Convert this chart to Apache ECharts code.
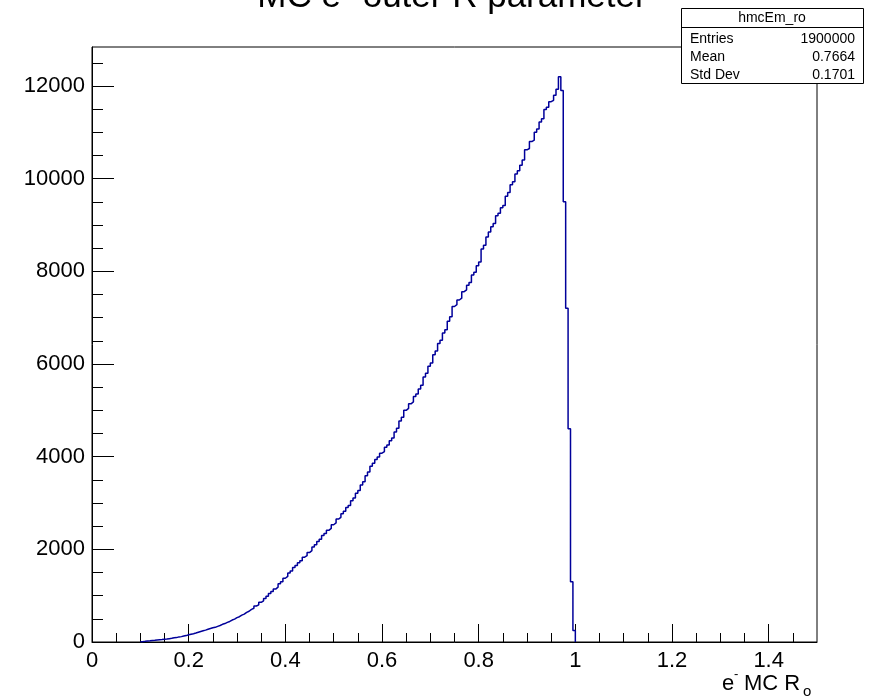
<!DOCTYPE html>
<html>
<head>
<meta charset="utf-8">
<script src="https://cdn.jsdelivr.net/npm/echarts@6/dist/echarts.min.js"></script>
<style>
html, body { margin: 0; padding: 0; background: #fff; }
#main { width: 870px; height: 700px; }
</style>
</head>
<body>
<div id="main"></div>
<script>
// histogram hmcEm_ro, bins of 0.005 starting at 0.1
var binStart = 0.1;
var binWidth = 0.005;
var counts = [
  8, 14, 22, 27, 34, 37, 45, 49, 53, 61,
  64, 72, 79, 90, 95, 110, 116, 128, 138, 155,
  168, 180, 194, 210, 226, 242, 256, 274, 290, 306,
  316, 338, 356, 382, 398, 424, 444, 474, 494, 526,
  545, 580, 602, 640, 664, 705, 728, 776, 802, 856,
  890, 940, 985, 1046, 1090, 1142, 1185, 1258, 1302, 1376,
  1415, 1488, 1532, 1606, 1650, 1708, 1752, 1830, 1862, 1930,
  1972, 2050, 2100, 2168, 2220, 2296, 2340, 2410, 2452, 2530,
  2570, 2652, 2690, 2770, 2820, 2900, 2948, 3050, 3110, 3212,
  3270, 3388, 3460, 3590, 3670, 3790, 3860, 3940, 3990, 4075,
  4110, 4200, 4250, 4345, 4400, 4530, 4610, 4770, 4850, 5000,
  5040, 5140, 5180, 5300, 5350, 5460, 5540, 5720, 5800, 5950,
  6020, 6200, 6280, 6440, 6510, 6670, 6740, 6920, 7020, 7240,
  7280, 7380, 7420, 7560, 7600, 7700, 7760, 7920, 7980, 8120,
  8200, 8480, 8560, 8740, 8850, 8960, 9030, 9200, 9250, 9370,
  9420, 9620, 9700, 9870, 9930, 10100, 10170, 10290, 10400, 10620,
  10650, 10800, 10830, 11000, 11070, 11220, 11290, 11490, 11540, 11660,
  11690, 11800, 11930, 12200, 11900, 9500, 7200, 4600, 1300, 250
];
var xTicks = [0, 0.2, 0.4, 0.6, 0.8, 1, 1.2, 1.4];
var xTickLabels = ['0', '0.2', '0.4', '0.6', '0.8', '1', '1.2', '1.4'];
var yTicks = [0, 2000, 4000, 6000, 8000, 10000, 12000];
var yTickLabels = ['0', '2000', '4000', '6000', '8000', '10000', '12000'];
var statsRows = [['Entries', '1900000'], ['Mean', '0.7664'], ['Std Dev', '0.1701']];

var points = [];
for (var i = 0; i < counts.length; i++) {
  points.push([+(binStart + i * binWidth).toFixed(4), counts[i]]);
}
points.push([+(binStart + counts.length * binWidth).toFixed(4), 0]);

var chart = echarts.init(document.getElementById('main'));
var font = 'Liberation Sans, Arial, Helvetica, sans-serif';

var statsGraphics = [
  { type: 'rect', shape: { x: 681.5, y: 8.5, width: 182, height: 75 },
    style: { fill: '#fff', stroke: '#000', lineWidth: 1 } },
  { type: 'line', shape: { x1: 681.5, y1: 27.5, x2: 863.5, y2: 27.5 },
    style: { stroke: '#000', lineWidth: 1 } },
  { type: 'text', x: 772, y: 18, style: { text: 'hmcEm_ro', font: '14px ' + font,
    fill: '#000', textAlign: 'center', textVerticalAlign: 'middle' } }
];
statsRows.forEach(function(r, k) {
  statsGraphics.push({ type: 'text', x: 690, y: 39 + k * 18.3,
    style: { text: r[0], font: '14px ' + font, fill: '#000', textAlign: 'left', textVerticalAlign: 'middle' } });
  statsGraphics.push({ type: 'text', x: 855, y: 39 + k * 18.3,
    style: { text: r[1], font: '14px ' + font, fill: '#000', textAlign: 'right', textVerticalAlign: 'middle' } });
});

var option = {
  animation: false,
  backgroundColor: '#fff',
  grid: {
    left: 92, right: 53, top: 47, bottom: 58,
    show: true, borderColor: '#000', borderWidth: 1, backgroundColor: 'transparent'
  },
  xAxis: {
    type: 'value', min: 0, max: 1.5, interval: 0.2,
    axisLine: { show: true, onZero: false, lineStyle: { color: '#000', width: 1 } },
    axisTick: { show: true, inside: true, length: 18, customValues: xTicks, lineStyle: { color: '#000' } },
    minorTick: { show: true, splitNumber: 4, length: 9, lineStyle: { color: '#000' } },
    splitLine: { show: false },
    axisLabel: {
      color: '#000', fontSize: 22, fontFamily: font, margin: 8,
      customValues: xTicks,
      formatter: function(v) {
        var k = xTicks.indexOf(v);
        return k >= 0 ? xTickLabels[k] : '';
      }
    }
  },
  yAxis: {
    type: 'value', min: 0, max: 12840, interval: 2000,
    axisLine: { show: true, lineStyle: { color: '#000', width: 1 } },
    axisTick: { show: true, inside: true, length: 22, customValues: yTicks, lineStyle: { color: '#000' } },
    minorTick: { show: true, splitNumber: 4, length: 11, lineStyle: { color: '#000' } },
    splitLine: { show: false },
    axisLabel: {
      color: '#000', fontSize: 22, fontFamily: font, margin: 7,
      customValues: yTicks,
      formatter: function(v) {
        var k = yTicks.indexOf(v);
        return k >= 0 ? yTickLabels[k] : '';
      }
    }
  },
  series: [{
    type: 'line',
    step: 'end',
    data: points,
    symbol: 'none',
    lineStyle: { color: '#00009a', width: 1.5 },
    z: 1
  }],
  graphic: [
    { type: 'text', x: 452, y: -3, style: { text: 'MC e\u207B outer R parameter',
      font: '35px ' + font, fill: '#000', textAlign: 'center', textVerticalAlign: 'middle' } },
    { type: 'text', x: 722, y: 684, style: { text: 'e', font: '22px ' + font,
      fill: '#000', textAlign: 'left', textVerticalAlign: 'middle' } },
    { type: 'text', x: 734, y: 674, style: { text: '-', font: '13px ' + font,
      fill: '#000', textAlign: 'left', textVerticalAlign: 'middle' } },
    { type: 'text', x: 744, y: 684, style: { text: 'MC R', font: '22px ' + font,
      fill: '#000', textAlign: 'left', textVerticalAlign: 'middle' } },
    { type: 'text', x: 803, y: 692, style: { text: 'o', font: '15px ' + font,
      fill: '#000', textAlign: 'left', textVerticalAlign: 'middle' } }
  ].concat(statsGraphics)
};
chart.setOption(option);
</script>
</body>
</html>
